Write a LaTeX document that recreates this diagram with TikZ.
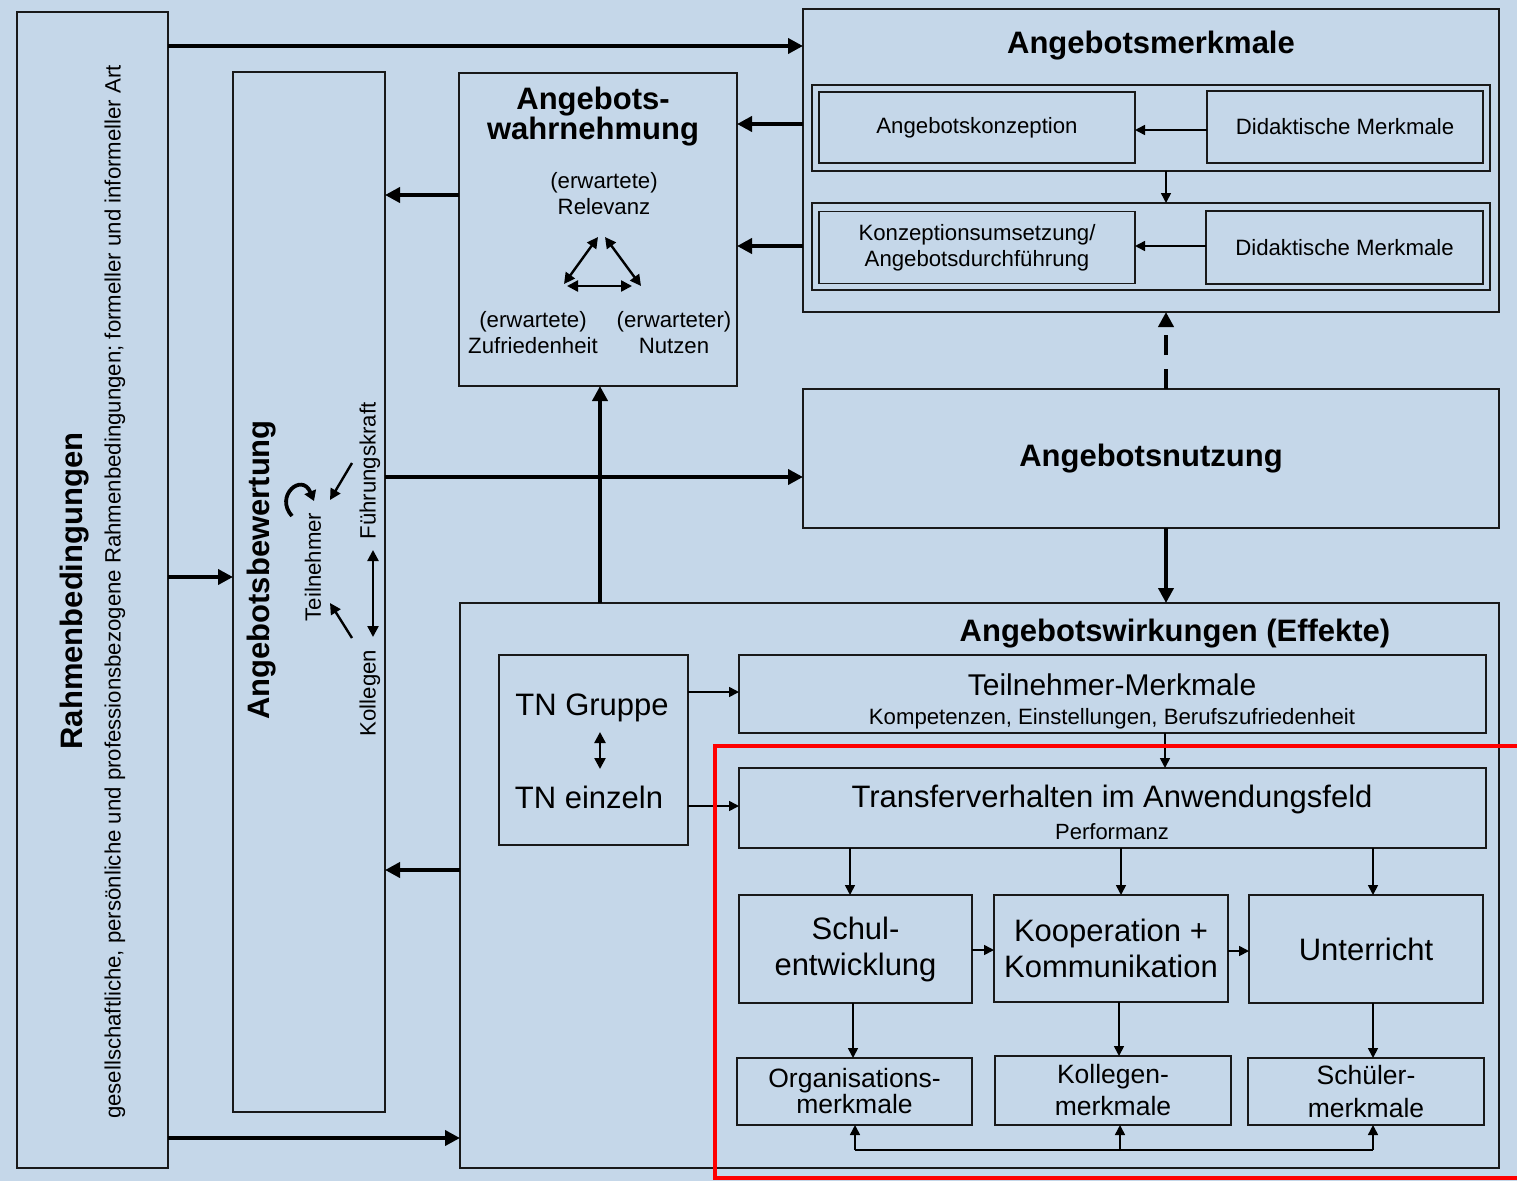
\documentclass[tikz,border=0pt]{standalone}
\usepackage{fontspec}
\setmainfont{Liberation Sans}
\usetikzlibrary{arrows.meta}
\definecolor{bgblue}{RGB}{197,215,233}
\definecolor{linegray}{RGB}{25,25,25}
\newcommand\fsz[2]{\fontsize{#1}{#2}\selectfont}

\begin{document}
\begin{tikzpicture}[x=1pt,y=-1pt,
  box/.style={draw=linegray, line width=1.6pt, inner sep=0pt, outer sep=0pt, align=center},
  lbl/.style={inner sep=0pt, outer sep=0pt, align=center},
  bigarr/.style={line width=4.5pt, -{Triangle[length=15pt,width=15pt]}},
  smallarr/.style={line width=1.6pt, -{Triangle[length=10pt,width=10pt]}},
  duoarr/.style={line width=2.4pt, {Triangle[length=11pt,width=11pt]}-{Triangle[length=11pt,width=11pt]}},
  oneway/.style={line width=2.4pt, -{Triangle[length=11pt,width=11pt]}},
  headfont/.style={font=\fsz{31}{31}\bfseries},
  bigfont/.style={font=\fsz{31}{36}},
  smallfont/.style={font=\fsz{22.2}{26}},
]
\fill[bgblue] (0,0) rectangle (1517,1181);
\useasboundingbox (0,0) rectangle (1517,1181);

% ---------- frame boxes ----------
\node[box, minimum width=151, minimum height=1156] (rahmen) at (92.5,590) {};
\node[box, minimum width=152, minimum height=1040] (bewert) at (309,592) {};
\node[box, minimum width=278, minimum height=313] (wahr) at (598,229.5) {};
\node[box, minimum width=696, minimum height=303] (merkmale) at (1151,160.5) {};
\node[box, headfont, minimum width=696, minimum height=139] (nutz) at (1151,458.5)
  {Angebotsnutzung};
\node[box, minimum width=1039, minimum height=565] (wirk) at (979.5,885.5) {};

% ---------- Rahmenbedingungen ----------
\node[lbl, headfont, rotate=90] (rahmentitle) at (75,591) {Rahmenbedingungen};
\node[lbl, font=\fsz{22.2}{26}, rotate=90] (rahmensub) at (115,592)
  {gesellschaftliche, persönliche und professionsbezogene Rahmenbedingungen; formeller und informeller Art};

% ---------- Angebotsbewertung ----------
\node[lbl, headfont, rotate=90] (bewerttitle) at (262,570) {Angebotsbewertung};
\node[lbl, smallfont, rotate=90] (tln) at (313,567) {Teilnehmer};
\node[lbl, smallfont, rotate=90] (fk) at (370,471) {Führungskraft};
\node[lbl, smallfont, rotate=90] (koll2) at (370,693) {Kollegen};
\coordinate (fkA) at (352,463);
\coordinate (fkT) at (330,500);
\coordinate (koA) at (352,638);
\coordinate (koT) at (330,603);
\coordinate (vfTop) at (373,550);
\coordinate (vfBot) at (373,637);
\coordinate (hookS) at (292,516);
\coordinate (hookE) at (314,501);
\draw[oneway] (fkA) -- (fkT);
\draw[oneway] (koA) -- (koT);
\draw[duoarr] (vfTop) -- (vfBot);
\draw[line width=3.8pt, -{Triangle[length=10pt,width=12pt]}]
  (hookS) .. controls (274,496) and (302,472) .. (hookE);

% ---------- Angebotswahrnehmung ----------
\node[lbl, font=\fsz{31}{26}\bfseries] (wahrtitle) at (593,117)
  {Angebots-\\wahrnehmung};
\node[lbl, smallfont] (relevanz) at (604,194) {(erwartete)\\Relevanz};
\node[lbl, smallfont] (zufr) at (533,333) {(erwartete)\\Zufriedenheit};
\node[lbl, smallfont] (nutzen) at (674,333) {(erwarteter)\\Nutzen};
\coordinate (triA) at (564,284);
\coordinate (triB) at (598,237);
\coordinate (triC) at (605,237);
\coordinate (triD) at (641,286);
\coordinate (triE) at (567,286);
\coordinate (triF) at (632,286);
\draw[duoarr] (triA) -- (triB);
\draw[duoarr] (triC) -- (triD);
\draw[duoarr] (triE) -- (triF);

% ---------- Angebotsmerkmale ----------
\node[lbl, headfont] (merktitle) at (1151,46) {Angebotsmerkmale};
\node[box, minimum width=678, minimum height=86] (row1) at (1151,128) {};
\node[box, minimum width=678, minimum height=87] (row2) at (1151,246.5) {};
\node[box, smallfont, minimum width=316, minimum height=71] (konz1) at (977,127.5)
  {Angebotskonzeption};
\node[box, smallfont, minimum width=276, minimum height=72] (did1) at (1345,127)
  {Didaktische Merkmale};
\node[box, smallfont, minimum width=316, minimum height=72] (konz2) at (977,247.5)
  {Konzeptionsumsetzung/\\Angebotsdurchführung};
\node[box, smallfont, minimum width=277, minimum height=73] (did2) at (1344.5,247.5)
  {Didaktische Merkmale};
\draw[smallarr] (did1.west |- 0,130) -- (konz1.east |- 0,130);
\draw[smallarr] (did2.west |- 0,246) -- (konz2.east |- 0,246);
\draw[smallarr] (row1.south -| 1166,0) -- (row2.north -| 1166,0);

% ---------- Angebotswirkungen ----------
\node[lbl, headfont] (wirktitle) at (1175,634) {Angebotswirkungen (Effekte)};
\node[box, minimum width=189, minimum height=190] (tn) at (593.5,750) {};
\node[lbl, bigfont] (tngr) at (592,708) {TN Gruppe};
\node[lbl, bigfont] (tnein) at (589,797) {TN einzeln};
\coordinate (tnTop) at (600,732);
\coordinate (tnBot) at (600,769);
\draw[duoarr] (tnTop) -- (tnBot);

\node[box, minimum width=747, minimum height=78] (tm) at (1112.5,694) {};
\node[lbl, font=\fsz{30}{30}] (tmtitle) at (1112,685) {Teilnehmer-Merkmale};
\node[lbl, font=\fsz{22.2}{26}] (tmsub) at (1112,719) {Kompetenzen, Einstellungen, Berufszufriedenheit};
\node[box, minimum width=747, minimum height=80] (trans) at (1112.5,808) {};
\node[lbl, bigfont] (transtitle) at (1112,799) {Transferverhalten im Anwendungsfeld};
\node[lbl, font=\fsz{22}{26}] (transsub) at (1112,832) {Performanz};

\node[box, bigfont, minimum width=233, minimum height=108] (schul) at (855.5,949)
  {Schul-\\entwicklung};
\node[box, bigfont, minimum width=234, minimum height=107] (koop) at (1111,948.5)
  {Kooperation +\\Kommunikation};
\node[box, bigfont, minimum width=234, minimum height=108] (unt) at (1366,949)
  {Unterricht};
\node[box, font=\fsz{26.5}{26}, minimum width=235, minimum height=67] (org) at (854.5,1091.5)
  {Organisations-\\merkmale};
\node[box, font=\fsz{26.5}{32}, minimum width=236, minimum height=69] (koll) at (1113,1090.5)
  {Kollegen-\\merkmale};
\node[box, font=\fsz{26.5}{33}, minimum width=236, minimum height=67] (sch) at (1366,1091.5)
  {Schüler-\\merkmale};

\draw[smallarr] (tn.east |- 0,692) -- (tm.west |- 0,692);
\draw[smallarr] (tn.east |- 0,806) -- (trans.west |- 0,806);
\draw[smallarr] (tm.south -| 1165,0) -- (trans.north -| 1165,0);
\draw[smallarr] (trans.south -| 850,0) -- (schul.north -| 850,0);
\draw[smallarr] (trans.south -| 1121,0) -- (koop.north -| 1121,0);
\draw[smallarr] (trans.south -| 1373,0) -- (unt.north -| 1373,0);
\draw[smallarr] (schul.east |- 0,950) -- (koop.west |- 0,950);
\draw[smallarr] (koop.east |- 0,951) -- (unt.west |- 0,951);
\draw[smallarr] (schul.south -| 853,0) -- (org.north -| 853,0);
\draw[smallarr] (koop.south -| 1119,0) -- (koll.north -| 1119,0);
\draw[smallarr] (unt.south -| 1373,0) -- (sch.north -| 1373,0);
\coordinate (fbL) at (855,1150);
\coordinate (fbM) at (1120,1150);
\coordinate (fbR) at (1373,1150);
\draw[line width=1.6pt] (fbL) -- (fbR);
\draw[smallarr] (fbL) -- (org.south -| fbL);
\draw[smallarr] (fbM) -- (koll.south -| fbM);
\draw[smallarr] (fbR) -- (sch.south -| fbR);

% ---------- main flow ----------
\draw[bigarr] (rahmen.east |- 0,46) -- (merkmale.west |- 0,46);
\draw[bigarr] (rahmen.east |- 0,577) -- (bewert.west |- 0,577);
\draw[bigarr] (rahmen.east |- 0,1138) -- (wirk.west |- 0,1138);
\draw[bigarr] (merkmale.west |- 0,124) -- (wahr.east |- 0,124);
\draw[bigarr] (merkmale.west |- 0,246) -- (wahr.east |- 0,246);
\draw[bigarr] (wahr.west |- 0,195) -- (bewert.east |- 0,195);
\draw[bigarr] (bewert.east |- 0,477) -- (nutz.west |- 0,477);
\draw[bigarr] (wirk.north -| 600,0) -- (wahr.south -| 600,0);
\draw[bigarr] (wirk.west |- 0,870) -- (bewert.east |- 0,870);
\draw[bigarr, dash pattern=on 20pt off 14pt] (nutz.north -| 1166,0) -- (merkmale.south -| 1166,0);
\draw[bigarr] (nutz.south -| 1166,0) -- (wirk.north -| 1166,0);

% ---------- highlight frame ----------
\draw[red, line width=4.5pt] (1525,746) -- (715,746) -- (715,1178) -- (1525,1178);
\end{tikzpicture}
\end{document}
